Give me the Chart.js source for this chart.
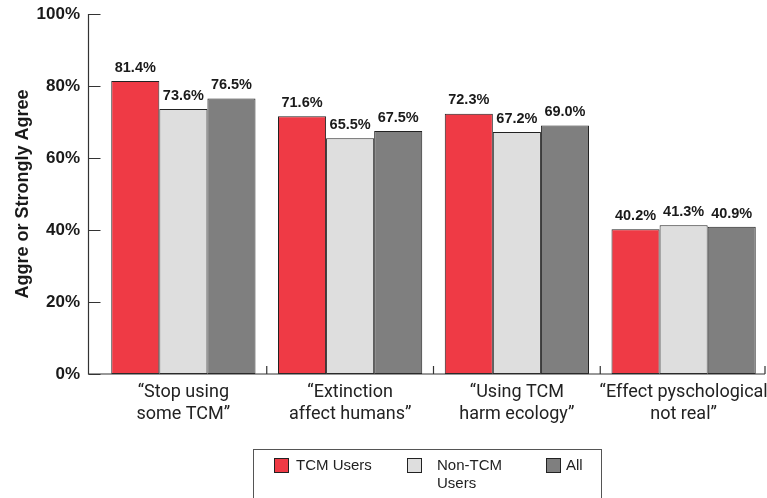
<!DOCTYPE html>
<html>
<head>
<meta charset="utf-8">
<script src="https://cdn.jsdelivr.net/npm/chart.js@4/dist/chart.umd.min.js"></script>
<style>
body{margin:0;background:#fff;}
#wrap{position:relative;width:767px;height:498px;overflow:hidden;}
#legend{position:absolute;left:253px;top:449px;width:349px;height:60px;border:1px solid #555;box-sizing:border-box;font-family:"Liberation Sans",Arial,sans-serif;font-size:15px;color:#222;}
.item{position:absolute;top:6px;line-height:18px;}
.sw{position:absolute;left:0;top:2px;width:13px;height:13px;border:1px solid #222;}
.txt{position:absolute;top:0;white-space:nowrap;}
</style>
</head>
<body>
<div id="wrap">
<canvas id="barChart" width="767" height="498"></canvas>
<div id="legend"></div>
</div>
<script>
const categories = [
["\u201cStop using","some TCM\u201d"],
["\u201cExtinction","affect humans\u201d"],
["\u201cUsing TCM","harm ecology\u201d"],
["\u201cEffect pyschological","not real\u201d"]
];
const seriesNames = ["TCM Users","Non-TCM Users","All"];
const tcmUsers = [81.4,71.6,72.3,40.2];
const nonTcmUsers = [73.6,65.5,67.2,41.3];
const allRespondents = [76.5,67.5,69.0,40.9];
const yTicks = [0,20,40,60,80,100];
const colors = ["#ef3a45","#dedede","#7f7f7f"];
const textColor = "#1a1a1a";

// axis lines drawn by hand: y axis sits a bit left of the first group, ticks point inward
const axisPlugin = {
id: "axes",
afterDatasetsDraw(chart){
const ctx = chart.ctx;
const ca = chart.chartArea;
const y = chart.scales.y;
const x = chart.scales.x;
const axisX = ca.left - 11.5;
ctx.save();
ctx.strokeStyle = "#333";
ctx.lineWidth = 1.2;
ctx.beginPath();
ctx.moveTo(axisX, y.getPixelForValue(100));
ctx.lineTo(axisX, ca.bottom);
ctx.lineTo(ca.right - 2, ca.bottom);
yTicks.forEach(function(t){
const py = Math.round(y.getPixelForValue(t)) + 0.5;
ctx.moveTo(axisX, py);
ctx.lineTo(axisX + 12, py);
});
for(let i = 1; i <= categories.length; i++){
let px = (x.getPixelForValue(i - 1) + x.getPixelForValue(Math.min(i, categories.length - 1))) / 2;
if(i === categories.length) px = ca.right - 2;
ctx.moveTo(px, ca.bottom);
ctx.lineTo(px, ca.bottom - 8);
}
ctx.stroke();

// value labels
ctx.fillStyle = textColor;
ctx.font = "bold 14.5px 'Liberation Sans', Arial, sans-serif";
ctx.textAlign = "center";
ctx.textBaseline = "bottom";
chart.data.datasets.forEach(function(ds, di){
chart.getDatasetMeta(di).data.forEach(function(bar, i){
ctx.fillText(ds.data[i].toFixed(1) + "%", bar.x, bar.y - 6);
});
});
ctx.restore();
}
};

new Chart(document.getElementById("barChart"), {
type: "bar",
data: {
labels: categories,
datasets: [
{label: seriesNames[0], data: tcmUsers, backgroundColor: colors[0]},
{label: seriesNames[1], data: nonTcmUsers, backgroundColor: colors[1]},
{label: seriesNames[2], data: allRespondents, backgroundColor: colors[2]}
].map(function(d){ d.borderColor = "#222"; d.borderWidth = 1; d.borderSkipped = false; return d; })
},
options: {
responsive: false,
animation: false,
layout: {padding: {top: 14, right: 0, left: 0, bottom: 0}},
categoryPercentage: 0.865,
barPercentage: 1,
plugins: {
legend: {display: false},
tooltip: {enabled: false}
},
scales: {
x: {
grid: {display: false, drawTicks: false},
border: {display: false},
afterFit(scale){ scale.height = 124; scale.paddingLeft = 0; scale.paddingRight = 0; },
ticks: {
color: "#222",
padding: 8,
maxRotation: 0,
autoSkip: false,
font: {family: "Roboto, sans-serif", size: 18},
lineHeight: 1.15
}
},
y: {
min: 0,
max: 100,
afterFit(scale){ scale.width = 100; scale.paddingTop = 0; scale.paddingBottom = 0; },
afterBuildTicks(scale){ scale.ticks = yTicks.map(function(v){ return {value: v}; }); },
grid: {display: false, drawTicks: false},
border: {display: false},
ticks: {
color: textColor,
padding: 20,
font: {family: "'Liberation Sans', Arial, sans-serif", size: 17, weight: "bold"},
callback: function(v){ return v + "%"; }
},
title: {
display: true,
text: "Aggre or Strongly Agree",
color: textColor,
padding: {top: 12, bottom: 0},
font: {family: "'Liberation Sans', Arial, sans-serif", size: 18, weight: "bold"}
}
}
}
},
plugins: [axisPlugin]
});

// legend built from the series names
const legendPos = [{sw: 20, txt: 42}, {sw: 153, txt: 183}, {sw: 292, txt: 312}];
const legendText = ["TCM Users", "Non-TCM<br>Users", "All"];
const legend = document.getElementById("legend");
seriesNames.forEach(function(name, i){
const it = document.createElement("div");
it.className = "item";
it.style.left = "0px";
it.innerHTML = '<span class="sw" style="left:' + legendPos[i].sw + 'px;background:' + colors[i] + '"></span>' +
'<span class="txt" style="left:' + legendPos[i].txt + 'px">' + legendText[i] + '</span>';
it.title = name;
legend.appendChild(it);
});
</script>
</body>
</html>
